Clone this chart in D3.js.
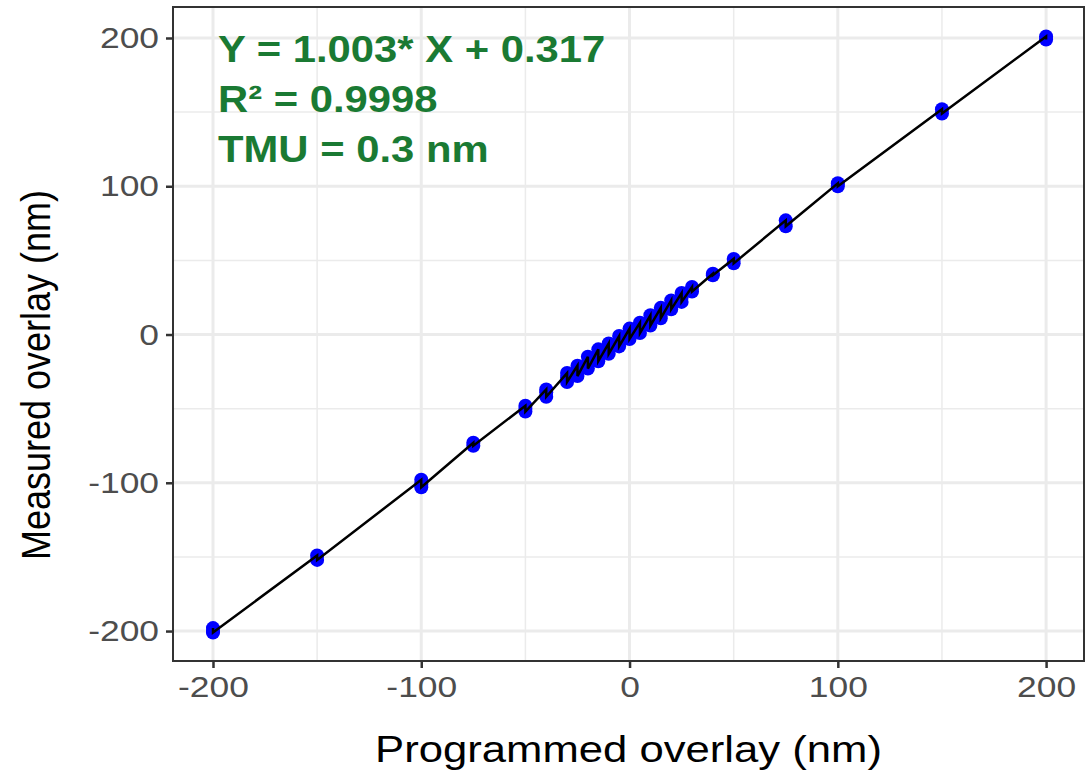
<!DOCTYPE html>
<html><head><meta charset="utf-8">
<script src="https://cdn.jsdelivr.net/npm/d3@7"></script>
<style>body{margin:0;background:#fff}svg{display:block}text{font-family:"Liberation Sans",Arial,sans-serif}</style>
</head><body><svg id="c" width="1086" height="778"></svg>
<script>
// Programmed overlay (nm) and measured overlay (nm) pairs
const programmed = [-200,-200,-200,-150,-150,-100,-100,-100,-75,-75,-50,-50,-50,-40,-40,-40,-30,-30,-30,-25,-25,-25,-20,-20,-20,-15,-15,-15,-10,-10,-10,-5,-5,-5,0,0,0,5,5,5,10,10,10,15,15,15,20,20,20,25,25,25,30,30,40,40,50,50,75,75,100,100,150,150,200,200];
const measured   = [-198,-200,-201,-149,-152,-98,-101,-103,-73,-75,-48,-50,-52,-37,-39,-42,-26,-29,-32,-21,-25,-28,-15,-19,-23,-10,-14,-18,-6,-10,-13,-1,-5,-8,4,0,-3,8,4,1,13,9,6,18,14,11,23,20,17,28,25,22,32,29,41,40,51,48,77,73,102,100,152,149,201,199];
const xTicks = [-200,-100,0,100,200];
const yTicks = [-200,-100,0,100,200];
const annotation = ["Y = 1.003* X + 0.317", "R² = 0.9998", "TMU = 0.3 nm"];
const xTitle = "Programmed overlay (nm)";
const yTitle = "Measured overlay (nm)";

const svg = d3.select("#c");
const L=173, R=1084, T=7, B=661;
const x = d3.scaleLinear().domain([-219.2,218.2]).range([L,R]);
const y = d3.scaleLinear().domain([-220.2,220.9]).range([B,T]);

const grid = svg.append("g");
const minor = d3.range(-200,201,50).filter(v=>v%100!==0);
grid.selectAll(".mx").data(minor).join("line").attr("x1",d=>x(d)).attr("x2",d=>x(d)).attr("y1",T).attr("y2",B).attr("stroke","#ebebeb").attr("stroke-width",1.5);
grid.selectAll(".my").data(minor).join("line").attr("y1",d=>y(d)).attr("y2",d=>y(d)).attr("x1",L).attr("x2",R).attr("stroke","#ebebeb").attr("stroke-width",1.5);
grid.selectAll(".Mx").data(xTicks).join("line").attr("x1",d=>x(d)).attr("x2",d=>x(d)).attr("y1",T).attr("y2",B).attr("stroke","#ebebeb").attr("stroke-width",3);
grid.selectAll(".My").data(yTicks).join("line").attr("y1",d=>y(d)).attr("y2",d=>y(d)).attr("x1",L).attr("x2",R).attr("stroke","#ebebeb").attr("stroke-width",3);

const pts = programmed.map((p,i)=>({x:p,y:measured[i]}));
const sorted = pts.slice().sort((a,b)=>a.x-b.x);

svg.append("g").selectAll("circle").data(pts).join("circle")
  .attr("cx",d=>x(d.x)).attr("cy",d=>y(d.y)).attr("r",7).attr("fill","#0000ff");

svg.append("path").datum(sorted)
  .attr("d", d3.line().x(d=>x(d.x)).y(d=>y(d.y)))
  .attr("fill","none").attr("stroke","#000").attr("stroke-width",2.5);

svg.append("rect").attr("x",L).attr("y",T).attr("width",R-L).attr("height",B-T)
  .attr("fill","none").attr("stroke","#333").attr("stroke-width",2);

const xa = svg.append("g").attr("transform",`translate(0,${B})`)
  .call(d3.axisBottom(x).tickValues(xTicks).tickSize(7).tickPadding(8));
const ya = svg.append("g").attr("transform",`translate(${L},0)`)
  .call(d3.axisLeft(y).tickValues(yTicks).tickSize(7).tickPadding(7));
[xa,ya].forEach(a=>{
  a.select(".domain").remove();
  a.selectAll(".tick line").attr("stroke","#333").attr("stroke-width",2.5);
  a.selectAll(".tick text").attr("fill","#4d4d4d").style("font-size","30px").style("font-family","'Liberation Sans',Arial,sans-serif")
    .text(d=>d<0?"-"+Math.abs(d):String(d));
});
// slight horizontal widening of glyphs, as in the reference
xa.selectAll(".tick text").attr("transform","scale(1.18,1)").attr("x",0);
ya.selectAll(".tick text").each(function(){
  const t=d3.select(this); const xx=+t.attr("x");
  t.attr("x",xx/1.18).attr("transform","scale(1.18,1)");
});

svg.append("text").attr("transform",`translate(${(L+R)/2},762) scale(1.18,1)`).attr("text-anchor","middle")
  .style("font-size","37px").attr("fill","#000").text(xTitle);
svg.append("text").attr("transform",`translate(50,375) scale(1.15,1) rotate(-90)`).attr("text-anchor","middle")
  .style("font-size","36px").attr("fill","#000").text(yTitle);

svg.append("g").attr("transform","translate(218,0) scale(1.13,1)").selectAll("text").data(annotation).join("text")
  .attr("x",0).attr("y",(d,i)=>62+i*50)
  .style("font-size","37px").style("font-weight","bold").attr("fill","#1a7a33").text(d=>d);
</script></body></html>
